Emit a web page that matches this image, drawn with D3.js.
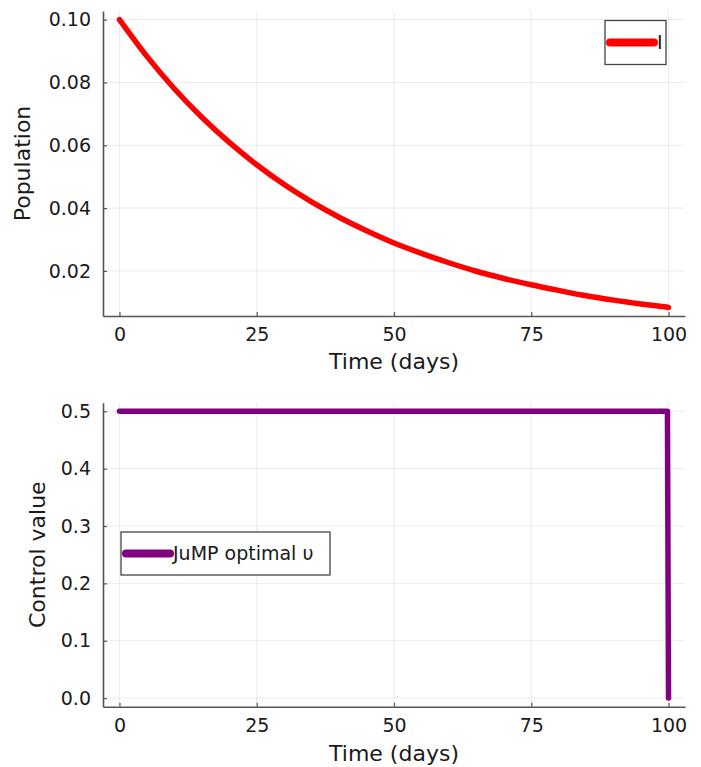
<!DOCTYPE html>
<html>
<head>
<meta charset="utf-8">
<script src="https://cdn.jsdelivr.net/npm/d3@7"></script>
<style>
  html, body { margin: 0; padding: 0; background: #fff; }
  svg { display: block; font-family: "DejaVu Sans", sans-serif; }
</style>
</head>
<body>
<svg id="chart" width="701" height="767"></svg>
<script>
// ---- data ----
const timeDays = [0, 5, 10, 15, 20, 25, 30, 35, 40, 45, 50, 55, 60, 65, 70, 75, 80, 85, 90, 95, 100];
const infected = [0.1000, 0.0883, 0.0780, 0.0689, 0.0609, 0.0538, 0.0475, 0.0420, 0.0371, 0.0328,
                  0.0289, 0.0256, 0.0226, 0.0199, 0.0176, 0.0156, 0.0138, 0.0121, 0.0107, 0.0095, 0.0084];
const controlTime = [0, 99.8, 100];
const controlValue = [0.5, 0.5, 0.0];
const xTicks = [0, 25, 50, 75, 100];
const yTicksTop = [0.02, 0.04, 0.06, 0.08, 0.10];
const yTicksBottom = [0.0, 0.1, 0.2, 0.3, 0.4, 0.5];
const seriesTop = "I";
const seriesBottom = "JuMP optimal \u03C5";
const xLabel = "Time (days)";
const yLabelTop = "Population";
const yLabelBottom = "Control value";

const svg = d3.select("#chart");
const textColor = "#1a1a1a";
const axisColor = "#555";

function panel(cfg) {
  const g = svg.append("g");
  const x = d3.scaleLinear().domain([-3, 103]).range([cfg.left, cfg.right]);
  const y = d3.scaleLinear().domain(cfg.yDomain).range([cfg.bottom, cfg.top]);

  // grid
  g.append("g").selectAll("line").data(xTicks).join("line")
    .attr("x1", d => x(d)).attr("x2", d => x(d))
    .attr("y1", cfg.top).attr("y2", cfg.bottom)
    .attr("stroke", "#000").attr("stroke-opacity", 0.08).attr("stroke-width", 1);
  g.append("g").selectAll("line").data(cfg.yTicks).join("line")
    .attr("x1", cfg.left).attr("x2", cfg.right)
    .attr("y1", d => y(d)).attr("y2", d => y(d))
    .attr("stroke", "#000").attr("stroke-opacity", 0.08).attr("stroke-width", 1);

  // axes
  const xa = g.append("g").attr("transform", `translate(0,${cfg.bottom})`)
    .call(d3.axisBottom(x).tickValues(xTicks).tickFormat(d3.format("d"))
      .tickSizeInner(-4).tickSizeOuter(0).tickPadding(12));
  const ya = g.append("g").attr("transform", `translate(${cfg.left},0)`)
    .call(d3.axisLeft(y).tickValues(cfg.yTicks).tickFormat(cfg.yFormat)
      .tickSizeInner(-4).tickSizeOuter(0).tickPadding(12));
  [xa, ya].forEach(a => {
    a.select(".domain").attr("stroke", axisColor).attr("stroke-width", 1.6);
    a.selectAll(".tick line").attr("stroke", axisColor).attr("stroke-width", 1.2);
    a.selectAll(".tick text").attr("fill", textColor)
      .style("font-family", "DejaVu Sans").style("font-size", "19px");
  });

  // line
  const line = d3.line().curve(d3.curveMonotoneX).x(d => x(d[0])).y(d => y(d[1]));
  g.append("path").datum(cfg.xs.map((t, i) => [t, cfg.ys[i]]))
    .attr("d", line).attr("fill", "none")
    .attr("stroke", cfg.color).attr("stroke-width", 5.5)
    .attr("stroke-linecap", "round").attr("stroke-linejoin", "round");

  // labels
  g.append("text").attr("x", (cfg.left + cfg.right) / 2).attr("y", cfg.xLabelY)
    .attr("text-anchor", "middle").attr("fill", textColor)
    .style("font-size", "22px").text(xLabel);
  g.append("text")
    .attr("transform", `translate(${cfg.yLabelX},${(cfg.top + cfg.bottom) / 2}) rotate(-90)`)
    .attr("text-anchor", "middle").attr("fill", textColor)
    .style("font-size", "22px").text(cfg.yLabel);

  // legend
  const lg = g.append("g");
  lg.append("rect").attr("x", cfg.leg.x).attr("y", cfg.leg.y)
    .attr("width", cfg.leg.w).attr("height", cfg.leg.h)
    .attr("fill", "#fff").attr("stroke", "#444").attr("stroke-width", 1.3);
  const ly = cfg.leg.y + cfg.leg.h / 2;
  lg.append("line").attr("x1", cfg.leg.x + 5).attr("x2", cfg.leg.x + 49)
    .attr("y1", ly).attr("y2", ly)
    .attr("stroke", cfg.color).attr("stroke-width", 8).attr("stroke-linecap", "round");
  lg.append("text").attr("x", cfg.leg.x + 52).attr("y", ly).attr("dy", "0.36em")
    .attr("fill", textColor).style("font-size", "19px").text(cfg.name);
}

panel({
  left: 103, right: 685, top: 11, bottom: 316,
  yDomain: [0.00565, 0.10275], yTicks: yTicksTop, yFormat: d3.format(".2f"),
  xs: timeDays, ys: infected, color: "#ff0000", name: seriesTop,
  xLabelY: 369, yLabelX: 30, yLabel: yLabelTop,
  leg: {x: 605, y: 20.5, w: 61, h: 44}
});

panel({
  left: 103, right: 685, top: 402.7, bottom: 706.7,
  yDomain: [-0.015, 0.515], yTicks: yTicksBottom, yFormat: d3.format(".1f"),
  xs: controlTime, ys: controlValue, color: "#800080", name: seriesBottom,
  xLabelY: 761, yLabelX: 44.5, yLabel: yLabelBottom,
  leg: {x: 121, y: 532, w: 209, h: 43}
});
</script>
</body>
</html>
